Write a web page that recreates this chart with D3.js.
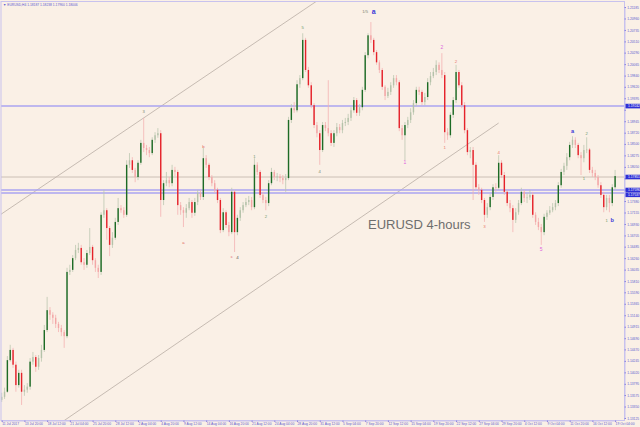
<!DOCTYPE html>
<html>
<head>
<meta charset="utf-8">
<script src="https://cdn.jsdelivr.net/npm/d3@7/dist/d3.min.js"></script>
<style>
  body { margin: 0; background: #faf0e6; }
  svg { display: block; }
</style>
</head>
<body>
<svg id="chart" width="640" height="427"></svg>
<script>
// EURUSD H4 candles (open = previous close)
const firstOpen = 1.1348;

const closes = [
  1.1354,1.1364,1.1426,1.1446,1.1417,1.1377,1.1401,1.1364,1.1368,1.1374,
  1.1423,1.1432,1.1413,1.1430,1.1446,1.1485,1.1524,1.1515,1.1509,1.1497,
  1.1489,1.1481,1.1473,1.1599,1.1603,1.1626,1.1642,1.1646,1.1618,1.1613,
  1.1636,1.1648,1.1622,1.1607,1.1599,1.1711,1.1720,1.1685,1.1652,1.1666,
  1.1697,1.1724,1.1720,1.1711,1.1809,1.1818,1.1799,1.1785,1.1813,1.1852,
  1.1842,1.1838,1.1832,1.1858,1.1867,1.1871,1.1740,1.1773,1.1779,1.1773,
  1.1799,1.1795,1.1730,1.1720,1.1715,1.1724,1.1736,1.1715,1.1736,1.1754,
  1.1746,1.1822,1.1809,1.1785,1.1773,1.1760,1.1740,1.1681,1.1716,1.1691,
  1.1677,1.1756,1.1677,1.1705,1.1720,1.1730,1.1736,1.1740,1.1726,1.1809,
  1.1795,1.1750,1.1740,1.1734,1.1773,1.1795,1.1785,1.1786,1.1783,1.1779,
  1.1783,1.1897,1.1920,1.1916,1.1967,1.1979,1.2054,1.1995,1.1965,1.1926,
  1.1887,1.1871,1.1838,1.1887,1.1881,1.1871,1.1852,1.1871,1.1883,1.1877,
  1.1891,1.1893,1.1901,1.1916,1.1936,1.1911,1.1922,1.1956,1.2024,1.2063,
  1.2054,1.2030,1.2010,1.1995,1.1962,1.1944,1.1952,1.1965,1.1979,1.1971,
  1.1881,1.1867,1.1887,1.1897,1.1912,1.1930,1.1956,1.1952,1.1932,1.1942,
  1.1971,1.1983,1.1991,1.2005,1.1995,1.1985,1.1873,1.1867,1.1907,1.1936,
  1.1991,1.1965,1.1926,1.1877,1.1834,1.1838,1.1809,1.1765,1.1760,1.1740,
  1.1711,1.1726,1.1746,1.1765,1.1764,1.1813,1.1789,1.1756,1.1734,1.1724,
  1.1701,1.1716,1.1734,1.1756,1.1744,1.1745,1.1750,1.1711,1.1697,1.1687,
  1.1677,1.1707,1.1715,1.1720,1.1726,1.1734,1.1769,1.1795,1.1807,1.1824,
  1.1848,1.1858,1.1848,1.1828,1.1822,1.1838,1.1839,1.1799,1.1793,1.1785,
  1.1769,1.1750,1.1726,1.1744,1.1734,1.1765,1.1787
];

const highs = [
  1.1362,1.1372,1.1434,1.1456,1.1450,1.1423,1.1407,1.1407,1.1377,1.1381,
  1.1430,1.1442,1.1436,1.1436,1.1456,1.1495,1.1550,1.1530,1.1520,1.1515,
  1.1501,1.1495,1.1485,1.1607,1.1613,1.1632,1.1652,1.1656,1.1652,1.1626,
  1.1642,1.1685,1.1652,1.1626,1.1613,1.1716,1.1760,1.1724,1.1689,1.1677,
  1.1705,1.1744,1.1730,1.1726,1.1818,1.1832,1.1824,1.1803,1.1818,1.1858,
  1.1901,1.1848,1.1844,1.1863,1.1873,1.1881,1.1877,1.1779,1.1795,1.1785,
  1.1809,1.1805,1.1799,1.1736,1.1726,1.1732,1.1744,1.1740,1.1744,1.1760,
  1.1760,1.1842,1.1828,1.1813,1.1789,1.1779,1.1764,1.1744,1.1724,1.1720,
  1.1697,1.1764,1.1760,1.1711,1.1726,1.1736,1.1744,1.1748,1.1746,1.1822,
  1.1814,1.1799,1.1756,1.1746,1.1779,1.1803,1.1799,1.1793,1.1791,1.1789,
  1.1791,1.1903,1.1928,1.1932,1.1975,1.1985,1.2067,1.2058,1.2001,1.1971,
  1.1930,1.1893,1.1877,1.1893,1.1893,1.1975,1.1877,1.1877,1.1891,1.1889,
  1.1897,1.1901,1.1909,1.1922,1.1942,1.1940,1.1928,1.1962,1.2030,1.2067,
  1.2089,1.2058,1.2034,1.2014,1.1999,1.1965,1.1960,1.1971,1.1985,1.1985,
  1.1975,1.1887,1.1893,1.1903,1.1920,1.1936,1.1962,1.1962,1.1956,1.1950,
  1.1979,1.1991,1.1999,1.2014,1.2010,1.2028,1.1991,1.1881,1.1912,1.1942,
  1.2005,1.1995,1.1971,1.1932,1.1881,1.1844,1.1844,1.1814,1.1771,1.1764,
  1.1744,1.1734,1.1752,1.1771,1.1773,1.1828,1.1818,1.1795,1.1760,1.1740,
  1.1730,1.1724,1.1740,1.1764,1.1760,1.1754,1.1760,1.1756,1.1716,1.1705,
  1.1693,1.1713,1.1720,1.1728,1.1734,1.1740,1.1775,1.1801,1.1813,1.1832,
  1.1854,1.1865,1.1863,1.1852,1.1834,1.1848,1.1863,1.1842,1.1805,1.1799,
  1.1789,1.1775,1.1756,1.1750,1.1750,1.1771,1.1799
];

const lows = [
  1.1344,1.1350,1.1362,1.1423,1.1411,1.1364,1.1372,1.1338,1.1356,1.1362,
  1.1368,1.1417,1.1403,1.1407,1.1423,1.1442,1.1481,1.1505,1.1497,1.1489,
  1.1481,1.1473,1.1450,1.1469,1.1593,1.1599,1.1622,1.1636,1.1613,1.1603,
  1.1607,1.1632,1.1613,1.1599,1.1587,1.1593,1.1705,1.1662,1.1630,1.1646,
  1.1662,1.1691,1.1715,1.1705,1.1707,1.1803,1.1793,1.1775,1.1779,1.1809,
  1.1834,1.1828,1.1824,1.1828,1.1852,1.1862,1.1707,1.1730,1.1767,1.1765,
  1.1767,1.1787,1.1711,1.1711,1.1687,1.1705,1.1720,1.1705,1.1709,1.1730,
  1.1740,1.1740,1.1803,1.1779,1.1767,1.1754,1.1734,1.1675,1.1677,1.1685,
  1.1669,1.1673,1.1638,1.1671,1.1699,1.1715,1.1726,1.1730,1.1720,1.1722,
  1.1789,1.1744,1.1734,1.1720,1.1728,1.1769,1.1779,1.1777,1.1775,1.1771,
  1.1756,1.1779,1.1891,1.1911,1.1912,1.1960,1.1975,1.1991,1.1960,1.1920,
  1.1881,1.1863,1.1809,1.1834,1.1875,1.1865,1.1846,1.1844,1.1865,1.1871,
  1.1871,1.1885,1.1887,1.1895,1.1911,1.1905,1.1905,1.1916,1.1952,1.2018,
  1.2048,1.2024,1.2005,1.1989,1.1956,1.1936,1.1940,1.1946,1.1960,1.1965,
  1.1875,1.1858,1.1818,1.1881,1.1891,1.1907,1.1924,1.1946,1.1926,1.1926,
  1.1936,1.1965,1.1979,1.1985,1.1989,1.1979,1.1852,1.1858,1.1862,1.1901,
  1.1930,1.1960,1.1920,1.1871,1.1828,1.1822,1.1740,1.1760,1.1750,1.1734,
  1.1697,1.1705,1.1720,1.1740,1.1756,1.1760,1.1783,1.1750,1.1728,1.1716,
  1.1677,1.1695,1.1711,1.1730,1.1736,1.1734,1.1740,1.1705,1.1691,1.1681,
  1.1652,1.1671,1.1701,1.1711,1.1716,1.1720,1.1728,1.1764,1.1789,1.1799,
  1.1818,1.1842,1.1842,1.1822,1.1789,1.1814,1.1832,1.1793,1.1785,1.1779,
  1.1764,1.1744,1.1716,1.1720,1.1716,1.1728,1.1760
];

// time axis labels, one every 8 candles
const timeLabels = ["11 Jul 2017","13 Jul 20:00","18 Jul 12:00","21 Jul 04:00","25 Jul 20:00",
  "28 Jul 12:00","2 Aug 04:00","4 Aug 20:00","9 Aug 12:00","14 Aug 04:00","16 Aug 20:00",
  "21 Aug 12:00","24 Aug 04:00","28 Aug 20:00","31 Aug 12:00","5 Sep 04:00","7 Sep 20:00",
  "12 Sep 12:00","15 Sep 04:00","19 Sep 20:00","22 Sep 12:00","27 Sep 04:00","29 Sep 20:00",
  "4 Oct 12:00","9 Oct 04:00","11 Oct 20:00","16 Oct 12:00","19 Oct 04:00"];
const timeStep = 8;

const priceLabels = [1.21185,1.20960,1.20735,1.20510,1.20290,1.20065,1.19840,1.19620,1.19395,
  1.19170,1.18945,1.18720,1.18500,1.18275,1.18050,1.17825,1.17605,1.17380,1.17155,1.16930,
  1.16705,1.16485,1.16260,1.16035,1.15810,1.15590,1.15365,1.15140,1.14915,1.14690,1.14470,
  1.14245,1.14020,1.13795,1.13575,1.13350,1.13125];

// horizontal levels and the bid line
const levelPrices = [1.19242, 1.17596, 1.17537];
const bidPrice = 1.17851;

// channel lines: [bar, price] anchors
const trendA = [[0, 1.1713], [100, 1.2089]];
const trendB = [[30, 1.1338], [175, 1.1891]];

// Elliott wave labels
const waveBars   = [50, 64, 71, 81, 83, 89, 93, 106, 112, 128, 131, 142, 155, 156, 160, 170, 175, 190, 201, 205, 206, 213, 215];
const wavePrices = [1.1912,1.1656,1.1844,1.1628,1.1626,1.1824,1.1707,1.2077,1.1795,1.2108,1.2108,1.1814,1.2038,1.1842,1.2010,1.1687,1.1832,1.1642,1.1875,1.1781,1.1869,1.1699,1.1699];
const waveTexts  = ["3","a","b","c","4","1","2","5","4","1/5","a","1","2","1","2","3","4","5","a","1","2","1","b"];
const waveDegrees = ["minor","minuette","minuette","minuette","primary","minute","minute","minute","minor","minor",
  "intermediate","cycle","cycle","micro","micro","micro","micro","cycle","intermediate","minute","minute","minute","intermediate"];

const title = "EURUSD 4-hours";
const titleBar = 129, titlePrice = 1.1683;
const header = "\u25BC EURUSD,H4  1.18187 1.18238 1.17960 1.18006";

// ---- drawing ----
const svg = d3.select("#chart");
const plot = {left: 1, top: 1.5, right: 624.5, bottom: 420.5};
const font = "Liberation Sans, Arial, sans-serif";

const opens = closes.map((c, i) => i ? closes[i - 1] : firstOpen);
const bars = closes.map((c, i) => ({i: i, o: opens[i], h: highs[i], l: lows[i], c: c}));

const x = d3.scaleLinear().domain([0, closes.length - 1]).range([1.7, 615.1]);
const y = d3.scaleLinear().domain(d3.extent(priceLabels)).range([418, 7]);

svg.append("rect").attr("width", 640).attr("height", 427).attr("fill", "#faf0e6");

svg.append("defs").append("clipPath").attr("id", "clip")
  .append("rect")
  .attr("x", plot.left).attr("y", plot.top)
  .attr("width", plot.right - plot.left).attr("height", plot.bottom - plot.top);

const g = svg.append("g").attr("clip-path", "url(#clip)");

// trend lines
[trendA, trendB].forEach((t, k) => {
  const slope = (t[1][1] - t[0][1]) / (t[1][0] - t[0][0]);
  const endBar = k === 0 ? closes.length + 20 : t[1][0];
  const startBar = -20;
  g.append("line")
    .attr("x1", x(startBar)).attr("y1", y(t[0][1] + slope * (startBar - t[0][0])))
    .attr("x2", x(endBar)).attr("y2", y(t[0][1] + slope * (endBar - t[0][0])))
    .attr("stroke", "#b9ada4").attr("stroke-width", 0.8);
});

// horizontal levels
g.selectAll(".level").data(levelPrices).enter().append("line")
  .attr("class", "level")
  .attr("x1", plot.left).attr("x2", plot.right)
  .attr("y1", d => y(d)).attr("y2", d => y(d))
  .attr("stroke", "#aaa4f0").attr("stroke-width", 1.5);

g.append("line")
  .attr("x1", plot.left).attr("x2", plot.right)
  .attr("y1", y(bidPrice)).attr("y2", y(bidPrice))
  .attr("stroke", "#c6b9b0").attr("stroke-width", 0.9);

// candles: big bodies saturated, small ones pale
const bigMove = 0.0019;
function bodyColor(d) {
  const up = d.c >= d.o;
  const big = Math.abs(d.c - d.o) > bigMove;
  if (up) return big ? "#1d6b25" : "#b4c2a9";
  return big ? "#e5222a" : "#f3a6a6";
}
function wickColor(d) {
  return d.c >= d.o ? "#bcc8b1" : "#f4b3b3";
}
const bodyW = 1.4;

g.selectAll(".wick").data(bars).enter().append("line")
  .attr("class", "wick")
  .attr("x1", d => x(d.i)).attr("x2", d => x(d.i))
  .attr("y1", d => y(d.h)).attr("y2", d => y(d.l))
  .attr("stroke", wickColor).attr("stroke-width", 0.8);

g.selectAll(".body").data(bars).enter().append("rect")
  .attr("class", "body")
  .attr("x", d => x(d.i) - bodyW / 2)
  .attr("y", d => y(Math.max(d.o, d.c)))
  .attr("width", bodyW)
  .attr("height", d => Math.max(0.7, Math.abs(y(d.o) - y(d.c))))
  .attr("fill", bodyColor);

// wave labels
const degreeStyle = {
  minor:        {fill: "#7c8870", size: 4.2, weight: "normal"},
  minuette:     {fill: "#e06262", size: 4.2, weight: "normal"},
  primary:      {fill: "#555555", size: 4.4, weight: "normal"},
  minute:       {fill: "#6f9a6a", size: 4.2, weight: "normal"},
  intermediate: {fill: "#3a3ad8", size: 5.6, weight: "bold"},
  cycle:        {fill: "#dd66dd", size: 5.0, weight: "normal"},
  micro:        {fill: "#e8766a", size: 4.4, weight: "normal"}
};
const waves = waveBars.map((b, i) => ({b: b, p: wavePrices[i], t: waveTexts[i], d: waveDegrees[i]}));
g.selectAll(".wave").data(waves).enter().append("text")
  .attr("class", "wave")
  .attr("x", d => x(d.b))
  .attr("y", d => y(d.p))
  .attr("text-anchor", "middle")
  .attr("dominant-baseline", "middle")
  .attr("font-family", font)
  .attr("font-size", d => (d.t === "a" && d.p > 1.205 ? 7 : degreeStyle[d.d].size) + "px")
  .attr("font-weight", d => degreeStyle[d.d].weight)
  .attr("fill", d => degreeStyle[d.d].fill)
  .text(d => d.t);

// chart caption
g.append("text")
  .attr("x", x(titleBar)).attr("y", y(titlePrice))
  .attr("font-family", font)
  .attr("font-size", "13px")
  .attr("fill", "#6e6e6e")
  .text(title);

// frame
svg.append("rect")
  .attr("x", plot.left).attr("y", plot.top)
  .attr("width", plot.right - plot.left).attr("height", plot.bottom - plot.top)
  .attr("fill", "none").attr("stroke", "#c8c2ee").attr("stroke-width", 1);

// price axis; tick labels hidden under the highlighted level boxes, as MT4 does
const marks = [bidPrice].concat(levelPrices);
const hidden = p => marks.some(m => Math.abs(y(m) - y(p)) < 5);
const yAxis = svg.append("g")
  .attr("transform", `translate(${plot.right},0)`)
  .call(d3.axisRight(y).tickValues(priceLabels).tickSize(1.5).tickPadding(1.2)
    .tickFormat(d3.format(".5f")));
yAxis.select(".domain").attr("stroke", "#c8c2ee");
yAxis.selectAll(".tick line").attr("stroke", "#8a84dd");
yAxis.selectAll(".tick text")
  .attr("fill", "#5d5bd0")
  .attr("font-family", font)
  .attr("font-size", "3.3px")
  .attr("display", d => hidden(d) ? "none" : null);

// highlighted level labels; boxes nudged apart when two levels sit together
const markY = marks.map(m => y(m));
for (let k = 1; k < markY.length; k++) {
  for (let j = 0; j < k; j++) {
    if (Math.abs(markY[k] - markY[j]) < 4.8) markY[k] = markY[j] + (markY[k] >= markY[j] ? 4.8 : -4.8);
  }
}
const markG = svg.selectAll(".mark").data(marks).enter().append("g")
  .attr("class", "mark")
  .attr("transform", (d, i) => `translate(${plot.right + 1},${markY[i]})`);
markG.append("rect")
  .attr("x", 0).attr("y", -2.3).attr("width", 15).attr("height", 4.6)
  .attr("fill", "#2f2fd6");
markG.append("text")
  .attr("x", 2.5).attr("dy", "0.35em")
  .attr("fill", "#ffffff")
  .attr("font-family", font)
  .attr("font-size", "3.3px")
  .text(d => d3.format(".5f")(d));

// time axis
const timeBars = timeLabels.map((t, i) => i * timeStep);
const xAxis = svg.append("g")
  .attr("transform", `translate(0,${plot.bottom})`)
  .call(d3.axisBottom(x).tickValues(timeBars).tickSize(1.5).tickPadding(1)
    .tickFormat((d, i) => timeLabels[i]));
xAxis.select(".domain").attr("stroke", "#c8c2ee");
xAxis.selectAll(".tick line").attr("stroke", "#8a84dd");
xAxis.selectAll("text")
  .attr("text-anchor", "start")
  .attr("fill", "#5d5bd0")
  .attr("font-family", font)
  .attr("font-size", "3.3px");

// header
svg.append("text")
  .attr("x", 3).attr("y", 5.5)
  .attr("fill", "#5d5bd0")
  .attr("font-family", font)
  .attr("font-size", "3.3px")
  .text(header);
</script>
</body>
</html>
